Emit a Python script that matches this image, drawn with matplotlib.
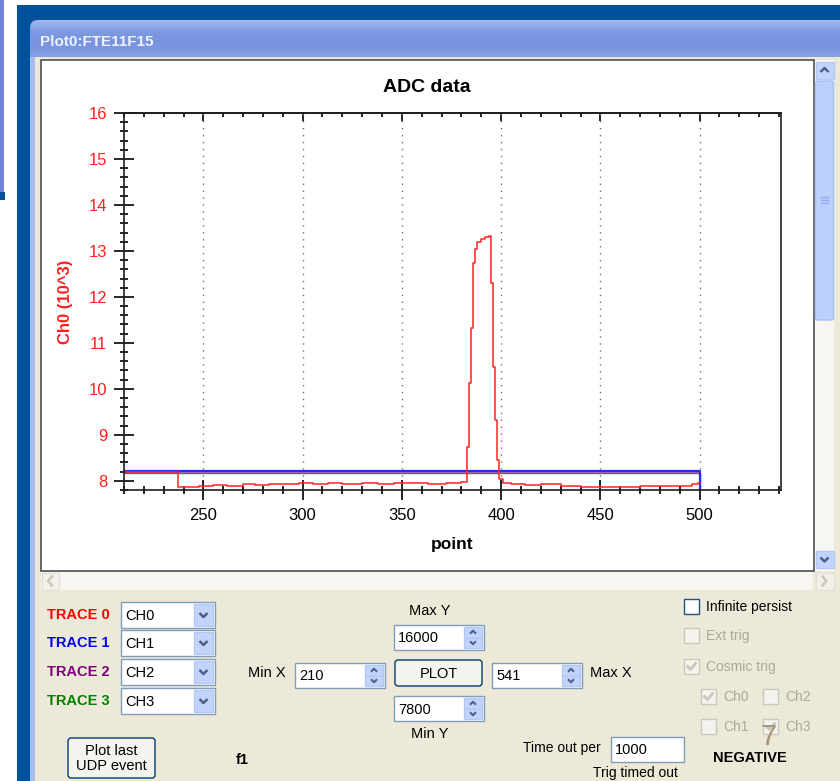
import matplotlib.pyplot as plt
from matplotlib.patches import Rectangle, FancyBboxPatch
from matplotlib.colors import LinearSegmentedColormap
from matplotlib.ticker import MultipleLocator
import numpy as np

# ---- trace data (ADC counts / 1000) ----
point_ch0 = [210, 237, 240, 248, 255, 262, 270, 276, 283, 290, 298, 305, 313, 320,
             330, 338, 346, 355, 363, 372, 380, 383, 384, 385, 386, 387, 388, 390,
             392, 394, 395, 396, 397, 398, 399, 401, 405, 412, 420, 430, 440, 450,
             460, 470, 480, 490, 496, 499, 500]
ch0 = [8.20, 7.87, 7.86, 7.88, 7.90, 7.89, 7.92, 7.91, 7.93, 7.92, 7.95, 7.94, 7.96, 7.94,
       7.95, 7.94, 7.96, 7.95, 7.94, 7.95, 7.97, 8.74, 10.13, 11.33, 12.74, 13.05, 13.20, 13.27,
       13.30, 13.33, 12.30, 10.48, 9.33, 8.46, 8.05, 7.96, 7.93, 7.91, 7.92, 7.88, 7.86, 7.87,
       7.86, 7.88, 7.89, 7.88, 7.93, 7.96, 7.96]
point_other = [210, 500, 500]
ch1 = [8.22, 8.22, 7.80]
ch2 = [8.16, 8.16, 7.80]
ch3 = [8.18, 8.18, 7.80]

min_x, max_x = 210, 541
min_y, max_y = 7800, 16000

W, H = 840, 781
fig = plt.figure(figsize=(W / 100, H / 100), dpi=100)
ui = fig.add_axes([0, 0, 1, 1])
ui.set_xlim(0, W)
ui.set_ylim(H, 0)
ui.axis('off')

FONT = 'Liberation Sans'
BLUE = '#01529C'
BEIGE = '#ECE9D8'


def box(x, y, w, h, fc, ec='none', lw=1.0, z=1):
    ui.add_patch(Rectangle((x, y), w, h, facecolor=fc, edgecolor=ec, linewidth=lw, zorder=z))


def label(x, y, s, size=10, color='black', weight='normal', ha='left', va='center'):
    ui.text(x, y, s, fontsize=size, color=color, fontweight=weight, ha=ha, va=va,
            family=FONT, zorder=5)


def chevron(cx, cy, up=False, s=4, color='#4D6185', lw=1.8):
    d = -1 if up else 1
    ui.plot([cx - s, cx, cx + s], [cy - d * s / 2, cy + d * s / 2, cy - d * s / 2],
            color=color, lw=lw, zorder=4, solid_capstyle='butt')


def combobox(x, y, w, h, txt):
    box(x, y, w, h, 'white', '#7F9DB9', z=2)
    box(x + w - 21, y + 2, 19, h - 4, '#C3D4FC', '#B4C8F6', z=3)
    chevron(x + w - 11.5, y + h / 2, s=4)
    label(x + 4, y + h / 2 + 1, txt, size=10.5)


def spinbox(x, y, w, h, txt):
    box(x, y, w, h, 'white', '#7F9DB9', z=2)
    bh = (h - 4) / 2
    box(x + w - 20, y + 2, 18, bh, '#C3D4FC', '#B4C8F6', z=3)
    box(x + w - 20, y + 2 + bh, 18, bh, '#C3D4FC', '#B4C8F6', z=3)
    chevron(x + w - 11, y + 2 + bh / 2, up=True, s=3, lw=1.5)
    chevron(x + w - 11, y + 2 + 1.5 * bh, s=3, lw=1.5)
    label(x + 4, y + h / 2 + 1, txt, size=10.5)


def button(x, y, w, h, txt):
    ui.add_patch(FancyBboxPatch((x, y), w, h, boxstyle='round,pad=0,rounding_size=3',
                                facecolor='#F4F3EE', edgecolor='#003C74', linewidth=1, zorder=2))
    label(x + w / 2, y + h / 2 + 1, txt, size=10.5, ha='center')


def checkbox(x, y, txt, checked=False, enabled=True):
    ec = '#1C5180' if enabled else '#CAC8BB'
    fc = 'white' if enabled else '#F4F3EE'
    box(x, y, 15, 15, fc, ec, z=2)
    if checked:
        ui.plot([x + 3.5, x + 6.5, x + 11.5], [y + 7.5, y + 10.5, y + 4.5],
                color='#CAC8BB' if not enabled else '#21A121', lw=2, zorder=3)
    label(x + 22, y + 8, txt, size=10, color='black' if enabled else '#ACA899')


# ---- window chrome ----
box(0, 0, 4, 192, '#7384DA')
box(0, 192, 5, 8, BLUE)
box(17, 5, W - 17, H - 5, BLUE)
grad = np.linspace(0, 1, 40).reshape(-1, 1)
title_img = ui.imshow(grad, cmap=LinearSegmentedColormap.from_list(
    'tb', ['#A3B8EE', '#7C98E1', '#7893DF', '#86A2E6']),
    extent=[30, W, 57, 20], aspect='auto', zorder=1)
clip = FancyBboxPatch((30, 20), W, 60, boxstyle='round,pad=0,rounding_size=8',
                      facecolor='none', edgecolor='none', transform=ui.transData)
ui.add_patch(clip)
title_img.set_clip_path(clip)
ui.set_xlim(0, W)
ui.set_ylim(H, 0)
label(40, 42, 'Plot0:FTE11F15', size=11, color='#EEF2FF', weight='bold')
box(30, 57, W - 30, H - 57, '#A9BCEB', z=1)
box(35, 57, W - 35, H - 57, BEIGE, z=1)

# plot panel
box(40.5, 59.5, 773, 511, 'white', '#505050', lw=1.2, z=1)
# vertical scrollbar
box(815, 60, 19, 511, '#F7F6F1', z=1)
box(815.5, 61.5, 18, 17, '#C3D4FC', '#B4C8F6', z=2)
chevron(824.5, 70, up=True, s=4)
ui.add_patch(FancyBboxPatch((815.5, 81), 18, 239, boxstyle='round,pad=0,rounding_size=2',
                            facecolor='#BBD0FA', edgecolor='#A9C2F4', lw=1, zorder=2))
for gy in (197, 200, 203):
    ui.plot([821, 828], [gy, gy], color='#8EAEF0', lw=1, zorder=3)
box(815.5, 551, 18, 17, '#C3D4FC', '#B4C8F6', z=2)
chevron(824.5, 559.5, s=4)
# horizontal scrollbar
box(41, 572, 772, 18, '#F7F6F1', z=1)
box(41.5, 572.5, 17, 17, '#F2F1EB', '#E3E1D6', z=2)
ui.plot([52, 48, 52], [576.5, 581, 585.5], color='#CAC8BB', lw=1.8, zorder=3)
box(815.5, 572.5, 18, 17, '#F2F1EB', '#E3E1D6', z=2)
ui.plot([822.5, 826.5, 822.5], [576.5, 581, 585.5], color='#CAC8BB', lw=1.8, zorder=3)

# ---- controls ----
trace_names = ['TRACE 0', 'TRACE 1', 'TRACE 2', 'TRACE 3']
trace_colors = ['#FF0000', '#0000FF', '#800080', '#008000']
trace_channels = ['CH0', 'CH1', 'CH2', 'CH3']
combo_tops = [602, 630, 659, 688]
for name, col, ch, top in zip(trace_names, trace_colors, trace_channels, combo_tops):
    label(47, top + 13, name, size=10.5, color=col, weight='bold')
    combobox(121, top, 94, 26, ch)

label(248, 673, 'Min X', size=10.5)
spinbox(295, 663, 90, 25, str(min_x))
label(430, 611, 'Max Y', size=10.5, ha='center')
spinbox(394, 625, 90, 25, str(max_y))
button(395, 660, 87, 26, 'PLOT')
spinbox(394, 696, 90, 25, str(min_y))
label(430, 734, 'Min Y', size=10.5, ha='center')
spinbox(492, 663, 90, 25, str(max_x))
label(590, 673, 'Max X', size=10.5)

button(68, 738, 87, 40, '')
label(111.5, 751, 'Plot last', size=10.5, ha='center')
label(111.5, 766, 'UDP event', size=10.5, ha='center')
label(236, 760, 'f1', size=10.5, weight='bold')

label(523, 748, 'Time out per', size=10)
box(611, 737, 73, 25, 'white', '#7F9DB9', z=2)
label(615, 750, '1000', size=10.5)
label(593, 773, 'Trig timed out', size=10)

checkbox(684, 599, 'Infinite persist', enabled=True)
checkbox(684, 628, 'Ext trig', enabled=False)
checkbox(684, 659, 'Cosmic trig', checked=True, enabled=False)
checkbox(701, 689, 'Ch0', checked=True, enabled=False)
checkbox(763, 689, 'Ch2', enabled=False)
checkbox(701, 719, 'Ch1', enabled=False)
checkbox(763, 719, 'Ch3', checked=True, enabled=False)
label(769, 737, '7', size=21, color='#A39677', ha='center')
label(750, 758, 'NEGATIVE', size=10.5, weight='bold', ha='center')

# ---- chart ----
x0, x1, y0, y1 = 124, 781, 113, 490
ax = fig.add_axes([x0 / W, 1 - y1 / H, (x1 - x0) / W, (y1 - y0) / H])
ax.set_facecolor('white')
ax.plot(point_other, ch3, color='#00A000', lw=1.0)
ax.plot(point_other, ch2, color='#A040A0', lw=1.1)
ax.plot(point_other, ch1, color='#2A2AFF', lw=1.6)
ax.plot(point_ch0, ch0, color='#FF2424', lw=1.1, drawstyle='steps-post')
ax.set_xlim(min_x, max_x)
ax.set_ylim(min_y / 1000, max_y / 1000)

ax.xaxis.set_major_locator(MultipleLocator(50))
ax.xaxis.set_minor_locator(MultipleLocator(10))
ax.yaxis.set_major_locator(MultipleLocator(1))
ax.yaxis.set_minor_locator(MultipleLocator(0.2))
ax.tick_params(axis='both', which='major', direction='inout', length=14, width=1.2,
               labelsize=12, pad=6)
ax.tick_params(axis='both', which='minor', direction='inout', length=6, width=1.2)
ax.tick_params(axis='y', colors='black', labelcolor='#FF2020', pad=5)
for lab in ax.get_xticklabels() + ax.get_yticklabels():
    lab.set_family(FONT)
for s in ax.spines.values():
    s.set_linewidth(1.2)
    s.set_color('#202020')

top = ax.secondary_xaxis('top')
top.xaxis.set_major_locator(MultipleLocator(50))
top.xaxis.set_minor_locator(MultipleLocator(10))
top.tick_params(which='major', direction='in', length=6, width=1.2, labeltop=False)
top.tick_params(which='minor', direction='in', length=3, width=1.2)
top.spines['top'].set_linewidth(1.2)

ax.grid(axis='x', which='major', color='#707070', linestyle=(0, (1, 4)), lw=1)

ax.set_title('ADC data', x=0.461, pad=15, fontsize=14, fontweight='bold', family=FONT)
ax.set_xlabel('point', fontsize=12.5, fontweight='bold', family=FONT)
ax.xaxis.set_label_coords(0.5, -0.125)
ax.set_ylabel('Ch0 (10^3)', fontsize=12, fontweight='bold', color='#FF2020', family=FONT)
ax.yaxis.set_label_coords(-0.077, 0.5)

fig.savefig('out.png', dpi=100)
